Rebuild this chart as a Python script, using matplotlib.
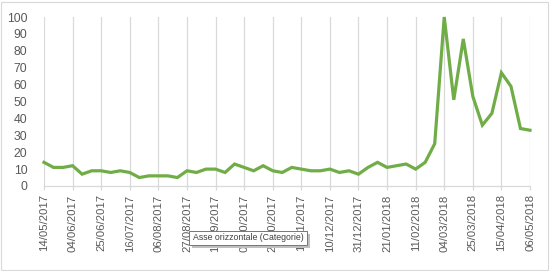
import numpy as np
import pandas as pd
import matplotlib
matplotlib.use("Agg")
import matplotlib.pyplot as plt
from matplotlib.patches import Rectangle

# weekly values, 14/05/2017 .. 06/05/2018
weeks = pd.date_range("2017-05-14", periods=52, freq="7D")
values = [14, 11, 11, 12, 7, 9, 9, 8, 9, 8,
          5, 6, 6, 6, 5, 9, 8, 10, 10, 8,
          13, 11, 9, 12, 9, 8, 11, 10, 9, 9,
          10, 8, 9, 7, 11, 14, 11, 12, 13, 10,
          14, 25, 100, 51, 87, 53, 36, 43, 67, 59,
          34, 33]
label_step = 3
tooltip_text = "Asse orizzontale (Categorie)"

text_col = "#595959"
grid_col = "#D9D9D9"
line_col = "#70AD47"

plt.rcParams["font.family"] = ["Liberation Sans", "DejaVu Sans"]

fig = plt.figure(figsize=(5.5, 2.71), dpi=100)
ax = fig.add_axes([44 / 550, 1 - 186 / 271, (530 - 44) / 550, (186 - 17) / 271])

x = np.arange(len(values))
ax.plot(x, values, color=line_col, lw=2.3, solid_joinstyle="miter", clip_on=False, zorder=3)

ax.set_xlim(0, len(values) - 1)
ax.set_ylim(0, 100)
ax.set_yticks(np.arange(0, 101, 10))

ticks = x[::label_step]
ax.set_xticks(ticks)
ax.set_xticklabels([weeks[i].strftime("%d/%m/%Y") for i in ticks], rotation=90)
ax.grid(axis="x", color=grid_col, lw=0.9)
ax.set_axisbelow(True)

for side in ("top", "right", "left"):
    ax.spines[side].set_visible(False)
ax.spines["bottom"].set_color(grid_col)
ax.spines["bottom"].set_linewidth(0.9)

ax.tick_params(axis="y", length=0, labelsize=8.8, labelcolor=text_col, pad=12)
ax.tick_params(axis="x", length=3, color=grid_col, width=0.9, labelsize=8.2,
               labelcolor=text_col, pad=3)

# chart area border
fig.patches.append(Rectangle((1 / 550, 1 / 271), 547 / 550, 268 / 271,
                             transform=fig.transFigure, fill=False,
                             edgecolor="#D9D9D9", lw=0.8))

# hover tooltip
fig.patches.append(Rectangle((192 / 550, 1 - 248 / 271), 118 / 550, 14 / 271,
                             transform=fig.transFigure, facecolor="#BFBFBF",
                             edgecolor="none", zorder=5))
fig.patches.append(Rectangle((189 / 550, 1 - 245 / 271), 118 / 550, 14 / 271,
                             transform=fig.transFigure, facecolor="white",
                             edgecolor="#767676", lw=0.7, zorder=6))
fig.text(193 / 550, 1 - 238 / 271, tooltip_text, fontsize=6.3, color="#404040",
         va="center", ha="left", zorder=7)

fig.savefig("out.png", dpi=100)
